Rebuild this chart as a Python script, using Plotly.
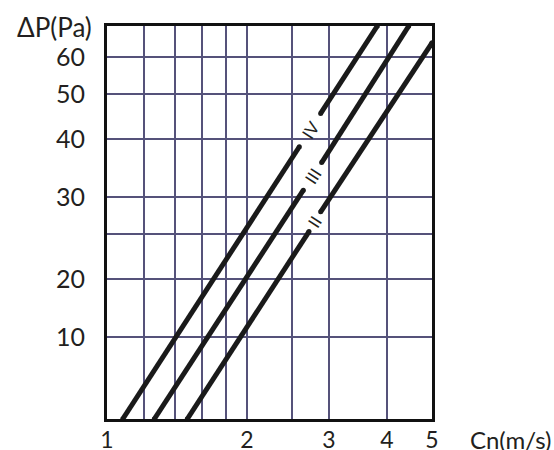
import math
import plotly.graph_objects as go

# ---- data ----
x_tickvals = [1, 1.2, 1.4, 1.6, 1.8, 2, 2.5, 3, 4, 5]
x_ticktext = ["1", "", "", "", "", "2", "", "3", "4", "5"]
y_tickvals = [15, 20, 25, 30, 40, 50, 60]
y_ticktext = ["10", "20", "", "30", "40", "50", "60"]

curve_names = ["IV", "III", "II"]
# each curve: lower segment (start -> gap start), upper segment (gap end -> end)
curve_v_lower = [[1.081, 2.592], [1.264, 2.644], [1.488, 2.719]]
curve_p_lower = [[10, 38.5], [10, 31.05], [10, 25.3]]
curve_v_upper = [[2.881, 3.814], [2.895, 4.456], [2.881, 5.0]]
curve_p_upper = [[45.4, 70], [35.6, 70], [27.9, 64.4]]

x_title = "Cn(m/s)"
y_title = "ΔP(Pa)"

FONT = "Lato"
TXT = "#231f20"
GRID = "#55527a"
FS = 25

fig = go.Figure()
for name, vl, pl, vu, pu in zip(curve_names, curve_v_lower, curve_p_lower,
                                 curve_v_upper, curve_p_upper):
    fig.add_trace(go.Scatter(
        x=vl + [None] + vu, y=pl + [None] + pu,
        mode="lines+markers", connectgaps=False,
        line=dict(color="#1a1a1a", width=5),
        marker=dict(color="#1a1a1a", size=5),
        showlegend=False, hoverinfo="skip"))
    lx = (math.log10(vl[1]) + math.log10(vu[0])) / 2
    ly = (math.log10(pl[1]) + math.log10(pu[0])) / 2
    fig.add_annotation(x=lx, y=ly, xref="x", yref="y", text=name,
                       showarrow=False, textangle=-57,
                       font=dict(family=FONT, size=17, color=TXT))

fig.add_annotation(xref="paper", yref="paper", x=1, y=0, xanchor="left",
                   yanchor="middle", xshift=36, yshift=-20, text=x_title,
                   showarrow=False, font=dict(family=FONT, size=FS - 1, color=TXT))
fig.add_annotation(xref="paper", yref="paper", x=0, y=1, xanchor="right",
                   yanchor="middle", xshift=-13, yshift=-1, text=y_title,
                   showarrow=False, font=dict(family=FONT, size=FS + 1, color=TXT))

fig.update_xaxes(type="log", range=[0, math.log10(5)], automargin=False,
                 tickmode="array", tickvals=x_tickvals, ticktext=x_ticktext,
                 showgrid=True, gridcolor=GRID, gridwidth=2,
                 showline=True, linecolor="#111", linewidth=3, mirror=True,
                 ticks="", ticklen=0, ticklabelstandoff=-2,
                 tickfont=dict(family=FONT, size=23, color=TXT), zeroline=False)
fig.update_yaxes(type="log", range=[1, math.log10(70)], automargin=False,
                 tickmode="array", tickvals=y_tickvals, ticktext=y_ticktext,
                 showgrid=True, gridcolor=GRID, gridwidth=2,
                 showline=True, linecolor="#111", linewidth=3, mirror=True,
                 ticks="outside", ticklen=14, tickcolor="rgba(0,0,0,0)",
                 tickfont=dict(family=FONT, size=FS, color=TXT), zeroline=False)

fig.update_layout(width=554, height=450,
                  margin=dict(l=107, r=122, t=26, b=31),
                  plot_bgcolor="white", paper_bgcolor="white")

fig.write_html("out.html", config={"displayModeBar": False},
               post_script="document.body.style.margin='0';document.body.style.overflow='hidden';")
